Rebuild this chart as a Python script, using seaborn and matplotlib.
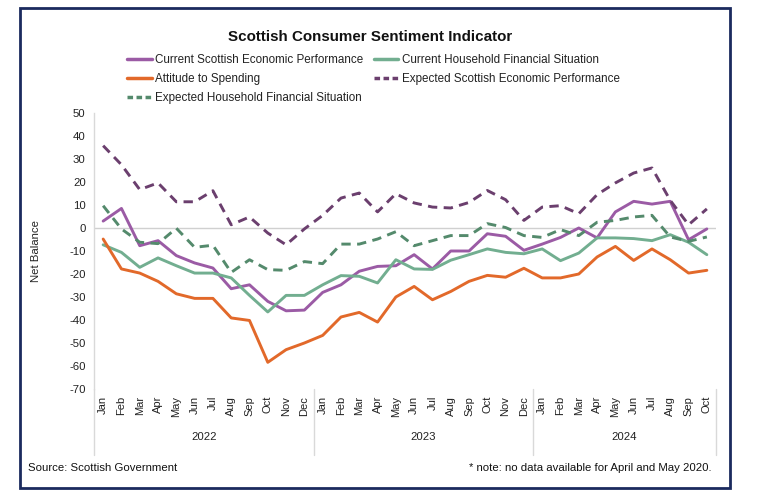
import matplotlib
matplotlib.use("Agg")
import matplotlib.pyplot as plt
from matplotlib.patches import Rectangle
from matplotlib.lines import Line2D
import matplotlib.transforms as mtransforms
import seaborn as sns
import pandas as pd
import numpy as np

sns.set_theme(style="white")
plt.rcParams['font.family'] = ['Liberation Sans', 'DejaVu Sans']

months = ["Jan", "Feb", "Mar", "Apr", "May", "Jun", "Jul", "Aug", "Sep", "Oct", "Nov", "Dec",
          "Jan", "Feb", "Mar", "Apr", "May", "Jun", "Jul", "Aug", "Sep", "Oct", "Nov", "Dec",
          "Jan", "Feb", "Mar", "Apr", "May", "Jun", "Jul", "Aug", "Sep", "Oct"]
years = ["2022", "2023", "2024"]

current_scot_econ = [3, 8.5, -7.7, -5.5, -12, -15.2, -17.4, -26.4, -24.7, -31.9, -36, -35.7,
                     -28, -24.7, -18.8, -16.7, -16.4, -11.6, -17.8, -10, -10, -2.5, -3.6, -9.7,
                     -7, -4.1, 0, -4.3, 7, 11.6, 10.4, 11.6, -5.1, -0.4]
current_household = [-7.3, -10.6, -17.1, -13, -16.4, -19.6, -19.6, -21.7, -29.3, -36.5, -29.3, -29.3,
                     -24.7, -20.7, -21, -23.9, -13.8, -17.8, -18, -14, -11.6, -9.1, -10.6, -11.2,
                     -9.1, -14.2, -10.9, -4.3, -4.3, -4.6, -5.5, -2.9, -6.2, -11.6]
attitude_spending = [-4.8, -17.8, -19.6, -23.2, -28.6, -30.6, -30.6, -39.1, -40.2, -58.4, -52.9, -50,
                     -46.7, -38.7, -36.7, -40.9, -30, -25.4, -31.2, -27.6, -23.2, -20.6, -21.4, -17.5,
                     -21.7, -21.7, -20, -12.6, -8, -14.1, -9.1, -13.8, -19.6, -18.4]
expected_scot_econ = [35.8, 27.5, 16.7, 19.6, 11.4, 11.4, 16.2, 1.4, 4.8, -2.2, -7.3, -0.4,
                      5.5, 13, 15.2, 7, 14.9, 10.9, 9.1, 8.7, 11.1, 16.3, 12.3, 3.3,
                      9.1, 9.7, 6.2, 14.5, 19.6, 23.9, 26.1, 12, 1.4, 8.3]
expected_household = [9.7, -0.4, -6.2, -6.8, -0.1, -8.4, -7.5, -19.3, -13.8, -18.1, -18.4, -14.6,
                       -15.5, -7, -7, -4.8, -1.6, -7.7, -5.5, -3.3, -3.3, 1.9, 0.2, -3.3,
                       -4.1, -0.7, -3.3, 2.5, 3.3, 4.8, 5.5, -3.9, -5.8, -3.9]

series_names = ["Current Scottish Economic Performance", "Current Household Financial Situation",
                "Attitude to Spending", "Expected Scottish Economic Performance",
                "Expected Household Financial Situation"]
series_values = [current_scot_econ, current_household, attitude_spending,
                 expected_scot_econ, expected_household]
colors = ["#9B5BA5", "#72AE90", "#E2692A", "#6B3F6E", "#548A6C"]
dashed = [False, False, False, True, True]

fig = plt.figure(figsize=(7.68, 4.96), dpi=100)
ax = fig.add_axes([94 / 768, 1 - 389 / 496, 622 / 768, 276 / 496])

idx = np.arange(len(months))
handles = {}
for name, vals, col, dsh in zip(series_names, series_values, colors, dashed):
    df = pd.DataFrame({"idx": idx, "value": vals})
    sns.lineplot(data=df, x="idx", y="value", ax=ax, color=col, linewidth=2.1,
                 linestyle=(0, (3.2, 2.2)) if dsh else "-", legend=False)
    handles[name] = Line2D([0], [0], color=col, linewidth=2.5,
                           linestyle=(0, (1.6, 1.0)) if dsh else "-")

ax.set_xlim(-0.5, len(months) - 0.5)
ax.set_ylim(-70, 50)
ax.set_yticks(range(-70, 51, 10))
ax.set_yticklabels([str(v) for v in range(-70, 51, 10)], fontsize=8.2, color="#222222")
ax.set_xticks(idx)
ax.set_xticklabels(months, rotation=90, fontsize=8, color="#222222")
ax.tick_params(axis="both", length=0, pad=6)
ax.tick_params(axis="x", pad=5)
ax.set_xlabel("")
ax.set_ylabel("Net Balance", fontsize=8.2, color="#222222", labelpad=20)
ax.axhline(0, color="#d0d0d0", linewidth=1.0, zorder=0)
for s in ["top", "right", "bottom"]:
    ax.spines[s].set_visible(False)
ax.spines["left"].set_color("#d9d9d9")
ax.spines["left"].set_linewidth(1.0)
ax.grid(False)

trans = mtransforms.blended_transform_factory(ax.transData, ax.transAxes)
for xb in [-0.5, 11.5, 23.5, len(months) - 0.5]:
    ax.plot([xb, xb], [0, -66 / 276], transform=trans, color="#d9d9d9",
            linewidth=1.0, clip_on=False)
year_centers = [5.5, 17.5, 28.5]
for yc, yl in zip(year_centers, years):
    ax.text(yc, -48 / 276, yl, transform=trans, ha="center", va="center",
            fontsize=8.2, color="#222222")

fig.text(370 / 768, 1 - 37 / 496, "Scottish Consumer Sentiment Indicator",
         ha="center", va="center", fontsize=10.9, fontweight="bold", color="#111111")

order = [series_names[0], series_names[2], series_names[4], series_names[1], series_names[3]]
fig.legend([handles[n] for n in order], order, loc="upper left",
           bbox_to_anchor=(127 / 768, 1 - 54 / 496), ncol=2, frameon=False,
           fontsize=8.4, handlelength=2.1, handletextpad=0.3, columnspacing=0.9,
           labelspacing=0.62, borderpad=0, borderaxespad=0, labelcolor="#222222")

fig.text(28 / 768, 1 - 468 / 496, "Source: Scottish Government", ha="left",
         va="center", fontsize=8.2, color="#111111")
fig.text(712 / 768, 1 - 468 / 496, "* note: no data available for April and May 2020.",
         ha="right", va="center", fontsize=8.2, color="#111111")

fig.patches.append(Rectangle((20 / 768, 1 - 488 / 496), 710 / 768, 480 / 496,
                             transform=fig.transFigure, fill=False,
                             edgecolor="#1B2A5E", linewidth=2.0))

fig.savefig("out.png", dpi=100)
